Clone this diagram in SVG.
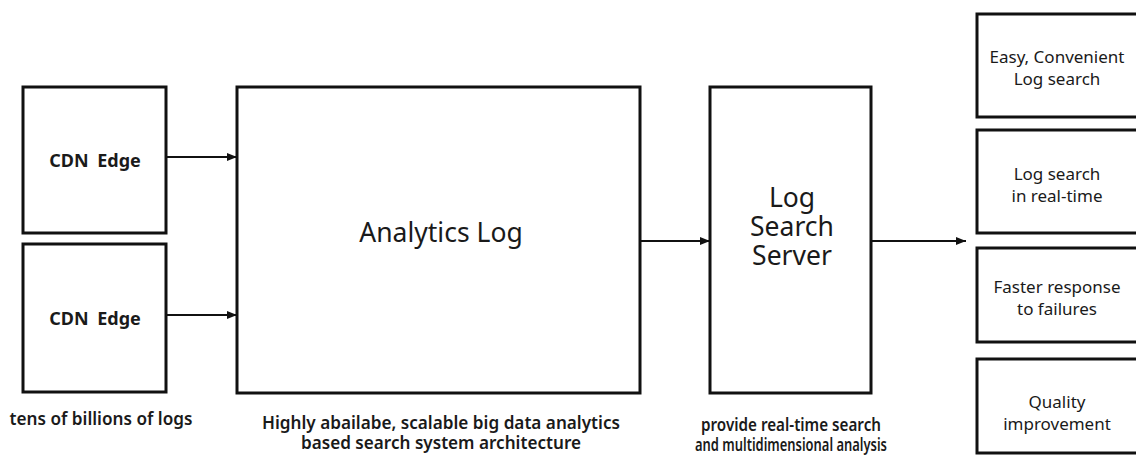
<svg xmlns="http://www.w3.org/2000/svg" width="1136" height="455" viewBox="0 0 1136 455">
<style>
.box{fill:#fff;stroke:#111;stroke-width:3}
.t{font-family:"Noto Sans","Open Sans",sans-serif;fill:#1a1a1a;text-anchor:middle}
.big{font-size:26.5px}
.mid{font-size:17px}
.cdn{font-size:18px;font-weight:bold;word-spacing:4px}
.cap{font-size:17px;font-weight:600}
.edge{stroke:#111;stroke-width:2;fill:none;marker-end:url(#ah)}
</style>
<defs>
<marker id="ah" viewBox="0 0 10 10" refX="10" refY="5" markerWidth="10" markerHeight="10" markerUnits="userSpaceOnUse" orient="auto">
<path d="M0,1 L10,5 L0,9 z" fill="#111"/>
</marker>
</defs>
<g id="cdn1"><rect class="box" x="23" y="87" width="143" height="146"/><text class="t cdn" x="95" y="167">CDN Edge</text></g>
<g id="cdn2"><rect class="box" x="23" y="244" width="143" height="148"/><text class="t cdn" x="95" y="325">CDN Edge</text></g>
<g id="analytics"><rect class="box" x="237" y="87" width="403" height="306"/><text class="t big" x="441" y="242">Analytics Log</text></g>
<g id="server"><rect class="box" x="710" y="87" width="161" height="306"/><text class="t big"><tspan x="792" y="207">Log</tspan><tspan x="792" y="236">Search</tspan><tspan x="792" y="265">Server</tspan></text></g>
<g id="r1"><rect class="box" x="977" y="14" width="170" height="103"/><text class="t mid"><tspan x="1057" y="63">Easy, Convenient</tspan><tspan x="1057" y="85">Log search</tspan></text></g>
<g id="r2"><rect class="box" x="977" y="130" width="170" height="103"/><text class="t mid"><tspan x="1057" y="180">Log search</tspan><tspan x="1057" y="202">in real-time</tspan></text></g>
<g id="r3"><rect class="box" x="977" y="248" width="170" height="94"/><text class="t mid"><tspan x="1057" y="293">Faster response</tspan><tspan x="1057" y="315">to failures</tspan></text></g>
<g id="r4"><rect class="box" x="977" y="359" width="170" height="94"/><text class="t mid"><tspan x="1057" y="408">Quality</tspan><tspan x="1057" y="430">improvement</tspan></text></g>
<g id="connectors">
<line class="edge" x1="166" y1="157" x2="237" y2="157"/>
<line class="edge" x1="166" y1="315" x2="237" y2="315"/>
<line class="edge" x1="640" y1="241" x2="710" y2="241"/>
<line class="edge" x1="871" y1="241" x2="966" y2="241"/>
</g>
<g id="captions">
<text class="t cap" x="101" y="425" textLength="183" lengthAdjust="spacingAndGlyphs">tens of billions of logs</text>
<text class="t cap" x="441" y="429" textLength="358" lengthAdjust="spacingAndGlyphs">Highly abailabe, scalable big data analytics</text>
<text class="t cap" x="441" y="449" textLength="280" lengthAdjust="spacingAndGlyphs">based search system architecture</text>
<text class="t cap" x="791" y="431" textLength="180" lengthAdjust="spacingAndGlyphs">provide real-time search</text>
<text class="t cap" x="791" y="451" textLength="192" lengthAdjust="spacingAndGlyphs">and multidimensional analysis</text>
</g>
</svg>
